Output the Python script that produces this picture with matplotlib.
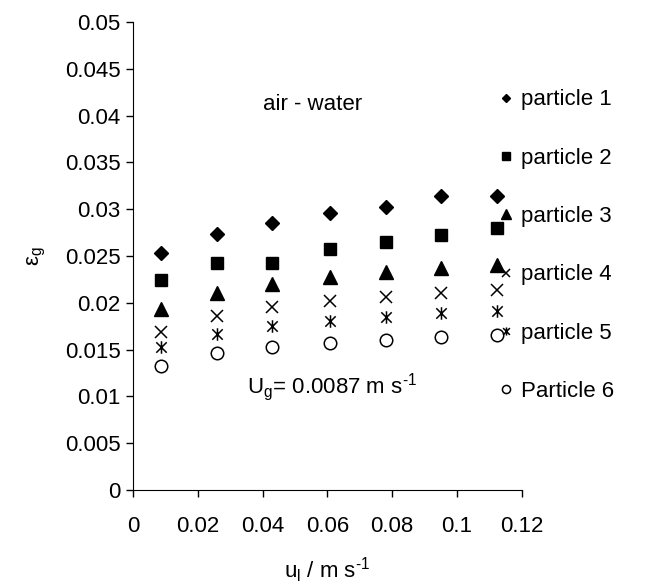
import matplotlib
matplotlib.use("Agg")
import matplotlib.pyplot as plt
from matplotlib.path import Path

plt.rcParams['font.family'] = ['Liberation Sans', 'DejaVu Sans']
plt.rcParams['mathtext.fontset'] = 'custom'
plt.rcParams['mathtext.rm'] = 'Liberation Sans'
plt.rcParams['mathtext.it'] = 'Liberation Sans'

# liquid velocity, m/s
u_l = [0.0087, 0.026, 0.043, 0.0607, 0.078, 0.095, 0.1125]

# gas holdup for each particle
particle_1 = [0.0253, 0.0274, 0.0285, 0.0296, 0.0302, 0.0314, 0.0314]
particle_2 = [0.0224, 0.0243, 0.0243, 0.0258, 0.0265, 0.0272, 0.0280]
particle_3 = [0.0193, 0.0210, 0.0220, 0.0228, 0.0233, 0.0237, 0.0240]
particle_4 = [0.0169, 0.0186, 0.0196, 0.0202, 0.0206, 0.0210, 0.0214]
particle_5 = [0.0153, 0.0167, 0.0175, 0.0181, 0.0185, 0.0189, 0.0191]
particle_6 = [0.0133, 0.0146, 0.0153, 0.0157, 0.0160, 0.0163, 0.0166]

labels = ['particle 1', 'particle 2', 'particle 3', 'particle 4',
          'particle 5', 'Particle 6']

# excel style star: an x with a vertical bar through it
star = Path([(-1, -1), (1, 1), (-1, 1), (1, -1), (0, -1.2), (0, 1.2)],
            [Path.MOVETO, Path.LINETO] * 3)

styles = [
    dict(marker='D', ms=7, color='black'),
    dict(marker='s', ms=9, color='black'),
    dict(marker='^', ms=10, color='black'),
    dict(marker='x', ms=9, color='black', mew=1.1),
    dict(marker=star, ms=9, color='black', mew=1.1),
    dict(marker='o', ms=9, mfc='none', mec='black', mew=1.1),
]

FS = 16
inv_s = r'$^{\text{-}1}$'

fig = plt.figure(figsize=(6.53, 5.87), dpi=100)
ax = fig.add_axes([0.2037, 0.1652, 0.5953, 0.7973])

series = [particle_1, particle_2, particle_3, particle_4, particle_5, particle_6]
for ys, lab, st in zip(series, labels, styles):
    ax.plot(u_l, ys, ls='none', label=lab, **st)

ax.set_xlim(0, 0.12)
ax.set_ylim(0, 0.05)
ax.set_xticks([0, 0.02, 0.04, 0.06, 0.08, 0.1, 0.12])
ax.set_xticklabels(['0', '0.02', '0.04', '0.06', '0.08', '0.1', '0.12'])
ax.set_yticks([i * 0.005 for i in range(11)])
ax.set_yticklabels(['0', '0.005', '0.01', '0.015', '0.02', '0.025', '0.03',
                    '0.035', '0.04', '0.045', '0.05'])
ax.tick_params(labelsize=FS, length=5, width=1, direction='out', pad=14)
ax.tick_params(axis='y', pad=4)
for side in ['top', 'right']:
    ax.spines[side].set_visible(False)

ax.set_xlabel(r'u$_\mathrm{l}$ / m s' + inv_s, fontsize=FS, labelpad=13)
ax.set_ylabel(r'ε$_\mathrm{g}$', fontsize=FS, labelpad=12)

ax.text(0.0555, 0.0412, 'air - water', fontsize=FS, ha='center', va='center')
ax.text(0.0353, 0.0110, r'U$_\mathrm{g}$= 0.0087 m s' + inv_s, fontsize=FS,
        ha='left', va='center')

ax.legend(loc='upper left', bbox_to_anchor=(0.943, 0.856), frameon=False,
          fontsize=FS, markerscale=0.65, handlelength=0.6, handletextpad=0.35,
          labelspacing=1.68, borderaxespad=0, borderpad=0)

fig.savefig('out.png', dpi=100)
